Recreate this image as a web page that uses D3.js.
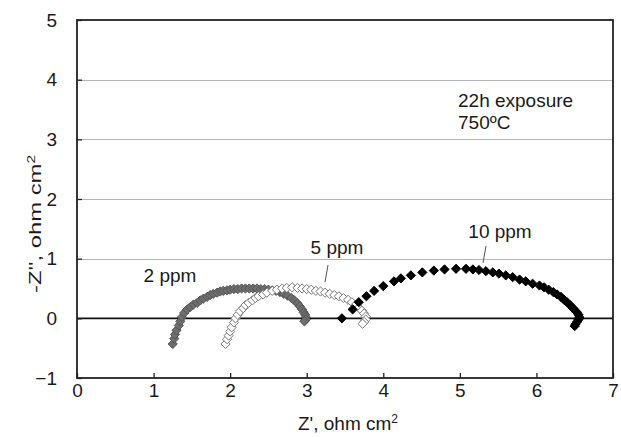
<!DOCTYPE html>
<html>
<head>
<meta charset="utf-8">
<script src="https://cdn.jsdelivr.net/npm/d3@7"></script>
<style>
  body { margin: 0; background: #fff; }
  text { font-family: "Liberation Sans", Arial, sans-serif; fill: #1a1a1a; }
</style>
</head>
<body>
<div class="chart"></div>
<script>
// Nyquist plot: impedance arcs after 22h exposure

var svgWidth = 621;
var svgHeight = 437;

var margin = { top: 20, right: 8, bottom: 59, left: 77 };
var width = svgWidth - margin.left - margin.right;
var height = svgHeight - margin.top - margin.bottom;

// data: [Z', -Z'']
var ppm2 = [
  [1.25, -0.43], [1.27, -0.34], [1.28, -0.27], [1.30, -0.20], [1.33, -0.12], [1.35, -0.05],
  [1.37, 0.02], [1.40, 0.09], [1.44, 0.15], [1.48, 0.19], [1.52, 0.23], [1.57, 0.26],
  [1.61, 0.30], [1.65, 0.33], [1.70, 0.36], [1.74, 0.39], [1.78, 0.41], [1.83, 0.43],
  [1.87, 0.45], [1.91, 0.46], [1.96, 0.47], [2.00, 0.48], [2.05, 0.49], [2.10, 0.49],
  [2.15, 0.50], [2.20, 0.50], [2.25, 0.50], [2.30, 0.50], [2.35, 0.50], [2.40, 0.49],
  [2.45, 0.49], [2.50, 0.48], [2.55, 0.47], [2.60, 0.46], [2.65, 0.44], [2.70, 0.41],
  [2.75, 0.38], [2.80, 0.34], [2.84, 0.30], [2.88, 0.25], [2.91, 0.20], [2.94, 0.15],
  [2.96, 0.10], [2.98, 0.06], [2.99, 0.02], [2.99, -0.02], [2.97, -0.05]
];

var ppm5 = [
  [1.94, -0.43], [1.96, -0.35], [1.98, -0.29], [2.00, -0.22], [2.02, -0.15], [2.05, -0.07],
  [2.07, 0.00], [2.10, 0.06], [2.13, 0.12], [2.17, 0.17], [2.20, 0.22], [2.24, 0.26],
  [2.29, 0.30], [2.33, 0.34], [2.37, 0.37], [2.43, 0.40], [2.48, 0.43], [2.55, 0.46],
  [2.61, 0.48], [2.68, 0.50], [2.74, 0.51], [2.81, 0.52], [2.88, 0.51], [2.94, 0.50],
  [3.00, 0.49], [3.06, 0.48], [3.12, 0.46], [3.18, 0.45], [3.24, 0.43], [3.30, 0.41],
  [3.36, 0.39], [3.42, 0.37], [3.48, 0.34], [3.54, 0.31], [3.59, 0.27], [3.64, 0.23],
  [3.68, 0.18], [3.72, 0.13], [3.75, 0.08], [3.77, 0.03], [3.77, -0.02], [3.75, -0.06],
  [3.73, -0.09]
];

var ppm10 = [
  [3.46, 0.00], [3.60, 0.15], [3.68, 0.27], [3.78, 0.37], [3.88, 0.46], [4.00, 0.54],
  [4.14, 0.62], [4.23, 0.67], [4.36, 0.72], [4.51, 0.77], [4.66, 0.80], [4.80, 0.82],
  [4.95, 0.83], [5.08, 0.83], [5.17, 0.82], [5.25, 0.81], [5.34, 0.79], [5.43, 0.77],
  [5.51, 0.75], [5.60, 0.72], [5.69, 0.69], [5.78, 0.65], [5.86, 0.62], [5.95, 0.58],
  [6.04, 0.55], [6.10, 0.52], [6.16, 0.48], [6.22, 0.44], [6.27, 0.40], [6.32, 0.36],
  [6.36, 0.31], [6.40, 0.27], [6.44, 0.22], [6.47, 0.18], [6.50, 0.14], [6.53, 0.10],
  [6.55, 0.06], [6.56, 0.02], [6.55, -0.02], [6.53, -0.06], [6.51, -0.10], [6.50, -0.13]
];

var xTicks = [0, 1, 2, 3, 4, 5, 6, 7];
var yTicks = [-1, 0, 1, 2, 3, 4, 5];

var fontSize = "19px";

var svg = d3.select(".chart")
  .append("svg")
  .attr("width", svgWidth)
  .attr("height", svgHeight);

var chartGroup = svg.append("g")
  .attr("transform", `translate(${margin.left}, ${margin.top})`);

var xLinearScale = d3.scaleLinear().domain([0, 7]).range([0, width]);
var yLinearScale = d3.scaleLinear().domain([-1, 5]).range([height, 0]);

// gridlines
chartGroup.append("g")
  .selectAll("line")
  .data(yTicks.filter(d => d > 0 && d < 5))
  .enter()
  .append("line")
  .attr("x1", 0)
  .attr("x2", width)
  .attr("y1", d => Math.round(yLinearScale(d)) + 0.5)
  .attr("y2", d => Math.round(yLinearScale(d)) + 0.5)
  .attr("stroke", "#b4b4b4")
  .attr("stroke-width", 1);

// zero line
chartGroup.append("line")
  .attr("x1", 0)
  .attr("x2", width)
  .attr("y1", yLinearScale(0))
  .attr("y2", yLinearScale(0))
  .attr("stroke", "#111")
  .attr("stroke-width", 1.6);

// axes (ticks inside)
var bottomAxis = d3.axisBottom(xLinearScale).tickValues(xTicks)
  .tickFormat(d3.format("d")).tickSize(-5).tickPadding(6);
var leftAxis = d3.axisLeft(yLinearScale).tickValues(yTicks)
  .tickFormat(d3.format("d")).tickSize(-5).tickPadding(20);

var xAxis = chartGroup.append("g")
  .attr("transform", `translate(0, ${height})`)
  .call(bottomAxis);

var yAxis = chartGroup.append("g")
  .call(leftAxis);

[xAxis, yAxis].forEach(function(ax) {
  ax.select(".domain").remove();
  ax.selectAll("line").attr("stroke", "#222").attr("stroke-width", 1.3);
  ax.selectAll("text")
    .style("font-size", fontSize)
    .style("font-family", "'Liberation Sans', Arial, sans-serif")
    .attr("fill", "#1a1a1a");
});

// frame
chartGroup.append("rect")
  .attr("x", 0)
  .attr("y", 0)
  .attr("width", width)
  .attr("height", height)
  .attr("fill", "none")
  .attr("stroke", "#222")
  .attr("stroke-width", 1.8);

var diamond = "M0,-4.6L4.6,0L0,4.6L-4.6,0Z";

function drawSeries(data, fill, stroke) {
  chartGroup.append("g")
    .selectAll("path")
    .data(data)
    .enter()
    .append("path")
    .attr("d", diamond)
    .attr("transform", d => `translate(${xLinearScale(d[0])}, ${yLinearScale(d[1])})`)
    .attr("fill", fill)
    .attr("stroke", stroke)
    .attr("stroke-width", 1);
}

drawSeries(ppm2, "#6e6e6e", "#555");
drawSeries(ppm5, "#fff", "#7a7a7a");
drawSeries(ppm10, "#000", "#000");

// series labels
chartGroup.append("text")
  .attr("x", 170 - margin.left)
  .attr("y", 282 - margin.top)
  .attr("text-anchor", "middle")
  .style("font-size", fontSize)
  .text("2 ppm");

chartGroup.append("text")
  .attr("x", 337 - margin.left)
  .attr("y", 254 - margin.top)
  .attr("text-anchor", "middle")
  .style("font-size", fontSize)
  .text("5 ppm");

chartGroup.append("text")
  .attr("x", 500 - margin.left)
  .attr("y", 238 - margin.top)
  .attr("text-anchor", "middle")
  .style("font-size", fontSize)
  .text("10 ppm");

// leader lines
chartGroup.append("line")
  .attr("x1", 328 - margin.left).attr("y1", 265 - margin.top)
  .attr("x2", 325 - margin.left).attr("y2", 282 - margin.top)
  .attr("stroke", "#555").attr("stroke-width", 1);

chartGroup.append("line")
  .attr("x1", 486 - margin.left).attr("y1", 246 - margin.top)
  .attr("x2", 483 - margin.left).attr("y2", 263 - margin.top)
  .attr("stroke", "#555").attr("stroke-width", 1);

// annotation
var note = chartGroup.append("text")
  .attr("x", 458 - margin.left)
  .attr("y", 107 - margin.top)
  .style("font-size", fontSize);
note.append("tspan").text("22h exposure");
note.append("tspan")
  .attr("x", 458 - margin.left)
  .attr("y", 129 - margin.top)
  .text("750ºC");

// axis titles
svg.append("text")
  .attr("x", 348)
  .attr("y", 430)
  .attr("text-anchor", "middle")
  .style("font-size", fontSize)
  .html("Z', ohm cm<tspan dy='-7' font-size='12px'>2</tspan>");

svg.append("text")
  .attr("transform", "translate(41, 224) rotate(-90) scale(1.4, 1)")
  .attr("text-anchor", "middle")
  .style("font-size", "17px")
  .html("-Z'', ohm cm<tspan dy='-6' font-size='11px'>2</tspan>");
</script>
</body>
</html>
